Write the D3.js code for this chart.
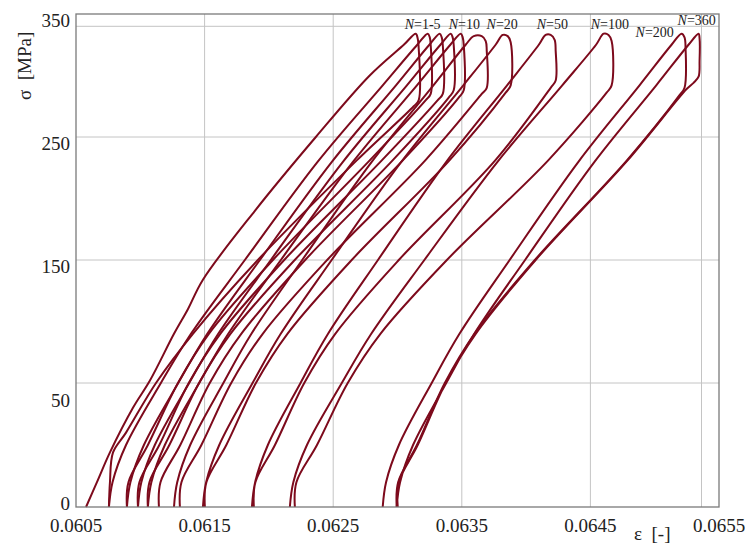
<!DOCTYPE html>
<html>
<head>
<meta charset="utf-8">
<script src="https://cdn.jsdelivr.net/npm/d3@7"></script>
<style>
  body { margin: 0; background: #fff; }
  text { font-family: "Liberation Serif", "DejaVu Serif", serif; fill: #222; }
</style>
</head>
<body>
<script>
// DATA ––––––––––––––––––––––––––––––––––––––––––––––––––––––––––––––––

  var xTicks = [0.0605, 0.0615, 0.0625, 0.0635, 0.0645, 0.0655],
      xTickLabels = ["0.0605", "0.0615", "0.0625", "0.0635", "0.0645", "0.0655"],
      yTicks = [0, 50, 150, 250, 350],
      yTickLabels = ["0", "50", "150", "250", "350"],
      xGrid = [0.0615, 0.0625, 0.0635, 0.0645, 0.065364],
      yGrid = [50, 150, 250, 340];

  // each loop: [strain, stress MPa] — loading, hold at top, unloading
  var loopN1 = [[0.060578,0],[0.060663,10],[0.060764,22],[0.060943,40],[0.061075,52],[0.061262,90],[0.061370,110],[0.061487,134],[0.061891,190],[0.062365,250],[0.062784,300],[0.063049,325],[0.063142,334],[0.063157,330],[0.063165,322],[0.063165,280],[0.063126,275],[0.062683,231],[0.061914,150],[0.061409,90],[0.061122,50],[0.060889,30],[0.060788,22],[0.060764,10],[0.060756,0]];
  var loopN2 = [[0.060756,0],[0.060784,10],[0.060889,25],[0.061160,50],[0.061394,90],[0.061813,150],[0.062380,230],[0.062885,292],[0.063154,325],[0.063235,334],[0.063251,331],[0.063258,325],[0.063258,285],[0.063220,280],[0.062784,231],[0.062031,150],[0.061533,90],[0.061293,50],[0.061059,25],[0.060908,10],[0.060896,0]];
  var loopN3 = [[0.060896,0],[0.060923,10],[0.061028,25],[0.061295,50],[0.061521,90],[0.061930,150],[0.062491,230],[0.062988,292],[0.063248,325],[0.063328,334],[0.063344,331],[0.063352,325],[0.063352,285],[0.063313,280],[0.062878,231],[0.062119,150],[0.061622,90],[0.061377,50],[0.061148,25],[0.060993,10],[0.060982,0]];
  var loopN4 = [[0.060982,0],[0.061008,10],[0.061113,25],[0.061380,50],[0.061606,90],[0.062015,150],[0.062577,230],[0.063073,292],[0.063334,325],[0.063414,334],[0.063429,331],[0.063437,325],[0.063437,288],[0.063398,282],[0.062962,231],[0.062201,150],[0.061701,90],[0.061457,50],[0.061226,25],[0.061071,10],[0.061059,0]];
  var loopN5 = [[0.061059,0],[0.061086,10],[0.061191,25],[0.061458,50],[0.061684,90],[0.062093,150],[0.062655,230],[0.063151,292],[0.063411,325],[0.063492,334],[0.063507,331],[0.063515,325],[0.063515,288],[0.063476,282],[0.063041,231],[0.062282,150],[0.061785,90],[0.061540,50],[0.061311,25],[0.061157,10],[0.061145,0]];
  var loopN10 = [[0.061262,0],[0.061287,10],[0.061388,25],[0.061646,50],[0.061864,90],[0.062259,150],[0.062801,230],[0.063279,292],[0.063530,325],[0.063593,332],[0.063655,332],[0.063686,328],[0.063694,320],[0.063694,290],[0.063655,285],[0.063216,231],[0.062453,150],[0.061952,90],[0.061707,50],[0.061475,25],[0.061320,10],[0.061308,0]];
  var loopN20 = [[0.061487,0],[0.061512,10],[0.061614,25],[0.061873,50],[0.062092,90],[0.062488,150],[0.063031,230],[0.063512,292],[0.063763,325],[0.063818,333],[0.063857,332],[0.063880,327],[0.063880,292],[0.063841,286],[0.063404,231],[0.062644,150],[0.062144,90],[0.061899,50],[0.061669,25],[0.061514,10],[0.061502,0]];
  var loopN50 = [[0.061868,0],[0.061893,10],[0.061992,25],[0.062246,50],[0.062460,90],[0.062848,150],[0.063381,230],[0.063852,292],[0.064099,325],[0.064152,333],[0.064191,333],[0.064222,329],[0.064230,320],[0.064230,296],[0.064191,290],[0.063760,231],[0.063010,150],[0.062516,90],[0.062275,50],[0.062047,25],[0.061895,10],[0.061883,0]];
  var loopN100 = [[0.062163,0],[0.062190,10],[0.062296,25],[0.062567,50],[0.062796,90],[0.063209,150],[0.063779,230],[0.064281,292],[0.064544,325],[0.064603,334],[0.064641,333],[0.064665,328],[0.064665,292],[0.064626,286],[0.064172,231],[0.063384,150],[0.062867,90],[0.062613,50],[0.062374,25],[0.062214,10],[0.062202,0]];
  var loopN200 = [[0.062885,0],[0.062911,10],[0.063011,25],[0.063266,50],[0.063482,90],[0.063872,150],[0.064408,230],[0.064882,292],[0.065131,325],[0.065209,334],[0.065232,331],[0.065240,322],[0.065232,290],[0.065193,284],[0.064784,231],[0.064068,150],[0.063599,90],[0.063368,50],[0.063151,25],[0.063005,10],[0.062994,0]];
  var loopN360 = [[0.062994,0],[0.063020,10],[0.063121,25],[0.063379,50],[0.063597,90],[0.063992,150],[0.064533,230],[0.065012,292],[0.065263,325],[0.065341,334],[0.065349,330],[0.065349,312],[0.065341,299],[0.065302,294],[0.065248,289],[0.064789,231],[0.064074,150],[0.063608,90],[0.063375,50],[0.063157,25],[0.063010,10],[0.063002,0]];

  var cycleLabels = ["1-5", "10", "20", "50", "100", "200", "360"],
      cycleLabelStrain = [0.063056, 0.063398, 0.063693, 0.064082, 0.064502, 0.064851, 0.065178],
      cycleLabelStress = [337.8, 337.8, 337.8, 337.8, 337.8, 331.3, 341];

// DRAW –––––––––––––––––––––––––––––––––––––––––––––––––––––––––––––––

  var drawChart = function() {
    var loops = [loopN1, loopN2, loopN3, loopN4, loopN5, loopN10, loopN20, loopN50, loopN100, loopN200, loopN360];

    var margin = {top: 14, right: 26, bottom: 38, left: 76},
        width = 745 - margin.left - margin.right,
        height = 545 - margin.top - margin.bottom;

    var svg = d3.select("body").append("svg")
        .attr("width", 745)
        .attr("height", 545);

    var g = svg.append("g")
        .attr("transform", "translate(" + margin.left + "," + margin.top + ")");

    var x = d3.scaleLinear()
        .domain([0.0605, 0.0655])
        .range([0, width]);

    // the printed stress axis is stretched below 50 MPa
    var y = d3.scaleLinear()
        .domain([0, 50, 350])
        .range([height, height - 124, 0]);

    // grid
    g.selectAll(".xgrid").data(xGrid).enter().append("line")
        .attr("x1", function(d) { return x(d); })
        .attr("x2", function(d) { return x(d); })
        .attr("y1", 0)
        .attr("y2", height)
        .attr("stroke", "#c4c4c4")
        .attr("stroke-width", 1);

    g.selectAll(".ygrid").data(yGrid).enter().append("line")
        .attr("x1", 0)
        .attr("x2", width)
        .attr("y1", function(d) { return y(d); })
        .attr("y2", function(d) { return y(d); })
        .attr("stroke", "#c4c4c4")
        .attr("stroke-width", 1);

    // loops
    var line = d3.line()
        .x(function(d) { return x(d[0]); })
        .y(function(d) { return y(d[1]); })
        .curve(d3.curveCatmullRom.alpha(0.5));

    g.selectAll(".loop").data(loops).enter().append("path")
        .attr("fill", "none")
        .attr("stroke", "#7d0a1c")
        .attr("stroke-width", 2)
        .attr("stroke-linejoin", "round")
        .attr("d", line);

    // frame
    g.append("rect")
        .attr("width", width)
        .attr("height", height)
        .attr("fill", "none")
        .attr("stroke", "#7a7a7a")
        .attr("stroke-width", 1.3);

    // tick labels
    g.selectAll(".xlab").data(xTicks).enter().append("text")
        .attr("x", function(d) { return x(d); })
        .attr("y", height + 25)
        .attr("text-anchor", "middle")
        .style("font-size", "19px")
        .text(function(d, i) { return xTickLabels[i]; });

    g.selectAll(".ylab").data(yTicks).enter().append("text")
        .attr("x", -6)
        .attr("y", function(d, i) { return i === 0 ? y(d) + 3 : (i === 1 ? y(d) + 24 : y(d) + 13); })
        .attr("text-anchor", "end")
        .style("font-size", "19px")
        .text(function(d, i) { return yTickLabels[i]; });

    // axis titles
    svg.append("text")
        .attr("x", 634)
        .attr("y", 540)
        .style("font-size", "19px")
        .attr("xml:space", "preserve")
        .text("\u03b5  [-]");

    svg.append("text")
        .attr("transform", "translate(31,100) rotate(-90)")
        .style("font-size", "19px")
        .attr("xml:space", "preserve")
        .text("\u03c3  [MPa]");

    // cycle labels
    var lab = g.selectAll(".nlab").data(cycleLabels).enter().append("text")
        .attr("x", function(d, i) { return x(cycleLabelStrain[i]); })
        .attr("y", function(d, i) { return y(cycleLabelStress[i]); })
        .style("font-size", "14px");
    lab.append("tspan").style("font-style", "italic").text("N");
    lab.append("tspan").text(function(d) { return "=" + d; });
  };

  drawChart();
</script>
</body>
</html>
